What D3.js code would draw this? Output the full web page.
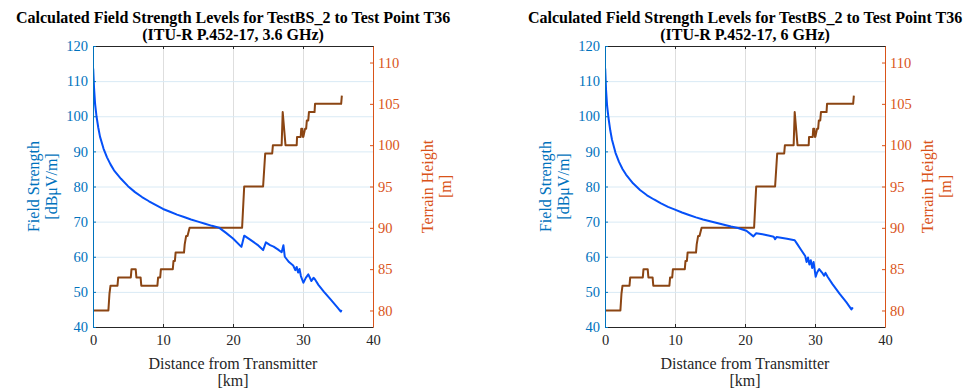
<!DOCTYPE html>
<html><head><meta charset="utf-8">
<script src="https://cdn.jsdelivr.net/npm/d3@7"></script>
<style>
body{margin:0;background:#fff}
svg{display:block}
</style></head>
<body><svg id="c" width="976" height="390"></svg>
<script>
// ---- data ----
const xTicks = [0, 10, 20, 30, 40];
const leftTicks = [40, 50, 60, 70, 80, 90, 100, 110, 120];
const rightTicks = [80, 85, 90, 95, 100, 105, 110];

const terrainDist = [0, 2.2, 2.35, 2.5, 3.5, 3.6, 5.4, 5.5, 6.1, 6.2, 6.8, 6.9, 9.2, 9.3, 9.6, 9.7, 11.4, 11.5, 11.7, 11.8, 13.0, 13.1, 13.3, 13.5, 13.8, 21.3, 21.6, 24.3, 24.6, 25.6, 25.7, 26.95, 27.1, 27.5, 29.1, 29.15, 29.67, 29.75, 29.9, 30.0, 30.05, 30.3, 30.45, 30.55, 30.75, 30.85, 31.65, 31.72, 35.45, 35.55];
const terrainHeight = [80, 80, 82, 83, 83, 84, 84, 85, 85, 84, 84, 83, 83, 84, 84, 85, 85, 86, 86, 87, 87, 88, 89, 89, 90, 90, 95, 95, 99, 99, 100, 100, 104, 100, 100, 101, 101, 102, 102, 101, 101, 102, 102, 103, 103, 104, 104, 105, 105, 106];

const fs36Dist = [0, 0.03, 0.15, 0.3, 0.5, 0.75, 1.0, 1.5, 2.0, 2.5, 3.0, 4.0, 5.0, 6.0, 7.0, 8.0, 9.0, 10.0, 11.0, 12.0, 13.0, 14.0, 15.0, 16.0, 17.0, 18.0, 19.0, 20.0, 21.2, 21.6, 22.5, 23.5, 24.3, 24.7, 25.3, 25.8, 26.4, 26.95, 27.2, 27.4, 28.0, 28.6, 28.9, 29.1, 29.3, 29.5, 29.7, 30.05, 30.4, 30.76, 31.2, 31.5, 31.7, 32.2, 33.0, 34.0, 35.0, 35.4, 35.5];
const fs36Val = [97, 113.5, 108, 103.5, 100, 96.8, 94.2, 90.8, 88.3, 86.3, 84.6, 82.2, 80.1, 78.4, 77.0, 75.8, 74.7, 73.6, 72.8, 72.0, 71.3, 70.6, 70.0, 69.4, 68.8, 68.3, 66.8, 65.2, 62.8, 66.0, 64.8, 63.4, 61.9, 64.1, 63.3, 62.9, 62.1, 61.3, 63.3, 60.0, 58.5, 57.5, 56.2, 57.1, 55.5, 56.5, 54.5, 52.6, 54.0, 55.0, 53.1, 54.0, 53.6, 52.0, 50.0, 47.7, 45.4, 44.4, 44.9];

const fs6Dist = [0, 0.03, 0.15, 0.3, 0.5, 0.75, 1.0, 1.5, 2.0, 2.5, 3.0, 4.0, 5.0, 6.0, 7.0, 8.0, 9.0, 10.0, 11.0, 12.0, 13.0, 14.0, 15.0, 16.0, 17.0, 18.0, 19.0, 20.2, 21.2, 21.6, 22.5, 23.5, 24.1, 24.3, 24.5, 26.0, 27.1, 27.4, 28.0, 28.6, 28.8, 29.0, 29.2, 29.4, 29.6, 29.8, 30.1, 30.3, 30.6, 31.0, 31.3, 31.5, 31.8, 32.5, 33.5, 34.5, 35.2, 35.4];
const fs6Val = [97, 113.5, 107.5, 103, 99.5, 96, 93.3, 89.6, 87, 85, 83.4, 80.9, 79.0, 77.5, 76.3, 75.2, 74.2, 73.4, 72.6, 71.9, 71.2, 70.6, 70.1, 69.6, 69.1, 68.6, 68.2, 67.4, 65.8, 66.7, 66.4, 66.0, 65.7, 65.0, 65.6, 65.1, 64.7, 63.8, 62.0, 60.2, 58.5, 59.8, 57.8, 59.0, 56.8, 58.5, 54.3, 55.5, 56.5, 55.5, 54.6, 55.4, 54.3, 52.2, 49.5, 47.0, 45.0, 45.6];

const titleLine1 = "Calculated Field Strength Levels for TestBS_2 to Test Point T36";
const titleLines2 = ["(ITU-R P.452-17, 3.6 GHz)", "(ITU-R P.452-17, 6 GHz)"];
const xLabel = ["Distance from Transmitter", "[km]"];
const yLeftLabel = ["Field Strength", "[dB\u03BCV/m]"];
const yRightLabel = ["Terrain Height", "[m]"];

// ---- drawing ----
const SERIF = "'Liberation Serif', 'Times New Roman', Times, serif";
const BLUE_AX = "#0072BD", ORANGE_AX = "#D95319", DARK = "#262626";
const LINE_BLUE = "#0550f8", LINE_BROWN = "#8B4513";
const svg = d3.select("#c");

const panels = [
  {ox: 0, fsD: fs36Dist, fsV: fs36Val, t2: titleLines2[0], rlab: 0},
  {ox: 512, fsD: fs6Dist, fsV: fs6Val, t2: titleLines2[1], rlab: -12}
];

panels.forEach((p, i) => {
  const L = 93 + p.ox, R = 373 + p.ox, T = 46, B = 327;
  const g = svg.append("g");
  const x = d3.scaleLinear().domain([0, 40]).range([L, R]);
  const yL = d3.scaleLinear().domain([40, 120]).range([B, T]);
  const yR = d3.scaleLinear().domain([78, 112]).range([B, T]);

  // grid
  g.append("g").attr("transform", `translate(0,${B})`)
    .call(d3.axisBottom(x).tickValues(xTicks.slice(1, -1)).tickSize(-(B - T)).tickFormat(""))
    .call(s => { s.select(".domain").remove(); s.selectAll("line").attr("stroke", "#dedede"); });
  g.append("g").attr("transform", `translate(${L},0)`)
    .call(d3.axisLeft(yL).tickValues(leftTicks.slice(1, -1)).tickSize(-(R - L)).tickFormat(""))
    .call(s => { s.select(".domain").remove(); s.selectAll("line").attr("stroke", "#d9eaf5"); });

  // clip
  const cid = "clip" + i;
  svg.append("clipPath").attr("id", cid).append("rect")
    .attr("x", L).attr("y", T).attr("width", R - L).attr("height", B - T);

  const terr = terrainDist.map((d, k) => [d, terrainHeight[k]]);
  const fs = p.fsD.map((d, k) => [d, p.fsV[k]]);
  const dg = g.append("g").attr("clip-path", `url(#${cid})`);
  dg.append("path").datum(terr)
    .attr("d", d3.line().x(d => x(d[0])).y(d => yR(d[1])))
    .attr("fill", "none").attr("stroke", LINE_BROWN).attr("stroke-width", 2).attr("stroke-linejoin", "round");
  dg.append("path").datum(fs)
    .attr("d", d3.line().x(d => x(d[0])).y(d => yL(d[1])))
    .attr("fill", "none").attr("stroke", LINE_BLUE).attr("stroke-width", 2).attr("stroke-linejoin", "round");

  // axes
  const fontTick = "14.5px";
  const styleAxis = (sel, col) => {
    sel.attr("font-family", null).attr("font-size", null);
    sel.select(".domain").attr("stroke", col);
    sel.selectAll("line").attr("stroke", col);
    sel.selectAll("text").attr("fill", col).style("font-size", fontTick).style("font-family", SERIF);
  };
  const bx = g.append("g").attr("transform", `translate(0,${B})`)
    .call(d3.axisBottom(x).tickValues(xTicks).tickSize(-3).tickPadding(8).tickSizeOuter(0));
  styleAxis(bx, DARK);
  bx.selectAll("text").attr("dy", "0.71em");

  const tx = g.append("g").attr("transform", `translate(0,${T})`)
    .call(d3.axisTop(x).tickValues(xTicks).tickSize(-3).tickFormat("").tickSizeOuter(0));
  styleAxis(tx, DARK);

  const la = g.append("g").attr("transform", `translate(${L},0)`)
    .call(d3.axisLeft(yL).tickValues(leftTicks).tickSize(-3).tickPadding(5).tickSizeOuter(0));
  styleAxis(la, BLUE_AX);

  const ra = g.append("g").attr("transform", `translate(${R},0)`)
    .call(d3.axisRight(yR).tickValues(rightTicks).tickSize(-3).tickPadding(5).tickSizeOuter(0));
  styleAxis(ra, ORANGE_AX);

  const txt = (xx, yy, s, col, bold, rot) => {
    const t = g.append("text")
      .attr("transform", rot ? `translate(${xx},${yy}) rotate(-90)` : `translate(${xx},${yy})`)
      .attr("text-anchor", "middle")
      .style("font-family", SERIF).style("font-size", "16px")
      .attr("fill", col).text(s);
    if (bold) t.style("font-weight", "bold");
    return t;
  };

  // titles
  const cx = (L + R) / 2;
  txt(cx, 22.5, titleLine1, "#000", true, false);
  txt(cx, 40, p.t2, "#000", true, false);

  // x label
  txt(cx, 369, xLabel[0], DARK, false, false);
  txt(cx, 386, xLabel[1], DARK, false, false);

  // y labels
  const cy = (T + B) / 2;
  txt(39 + p.ox, cy, yLeftLabel[0], BLUE_AX, false, true);
  txt(57 + p.ox, cy, yLeftLabel[1], BLUE_AX, false, true);
  txt(R + 60 + p.rlab, cy, yRightLabel[0], ORANGE_AX, false, true);
  txt(R + 78 + p.rlab, cy, yRightLabel[1], ORANGE_AX, false, true);
});
</script></body></html>
